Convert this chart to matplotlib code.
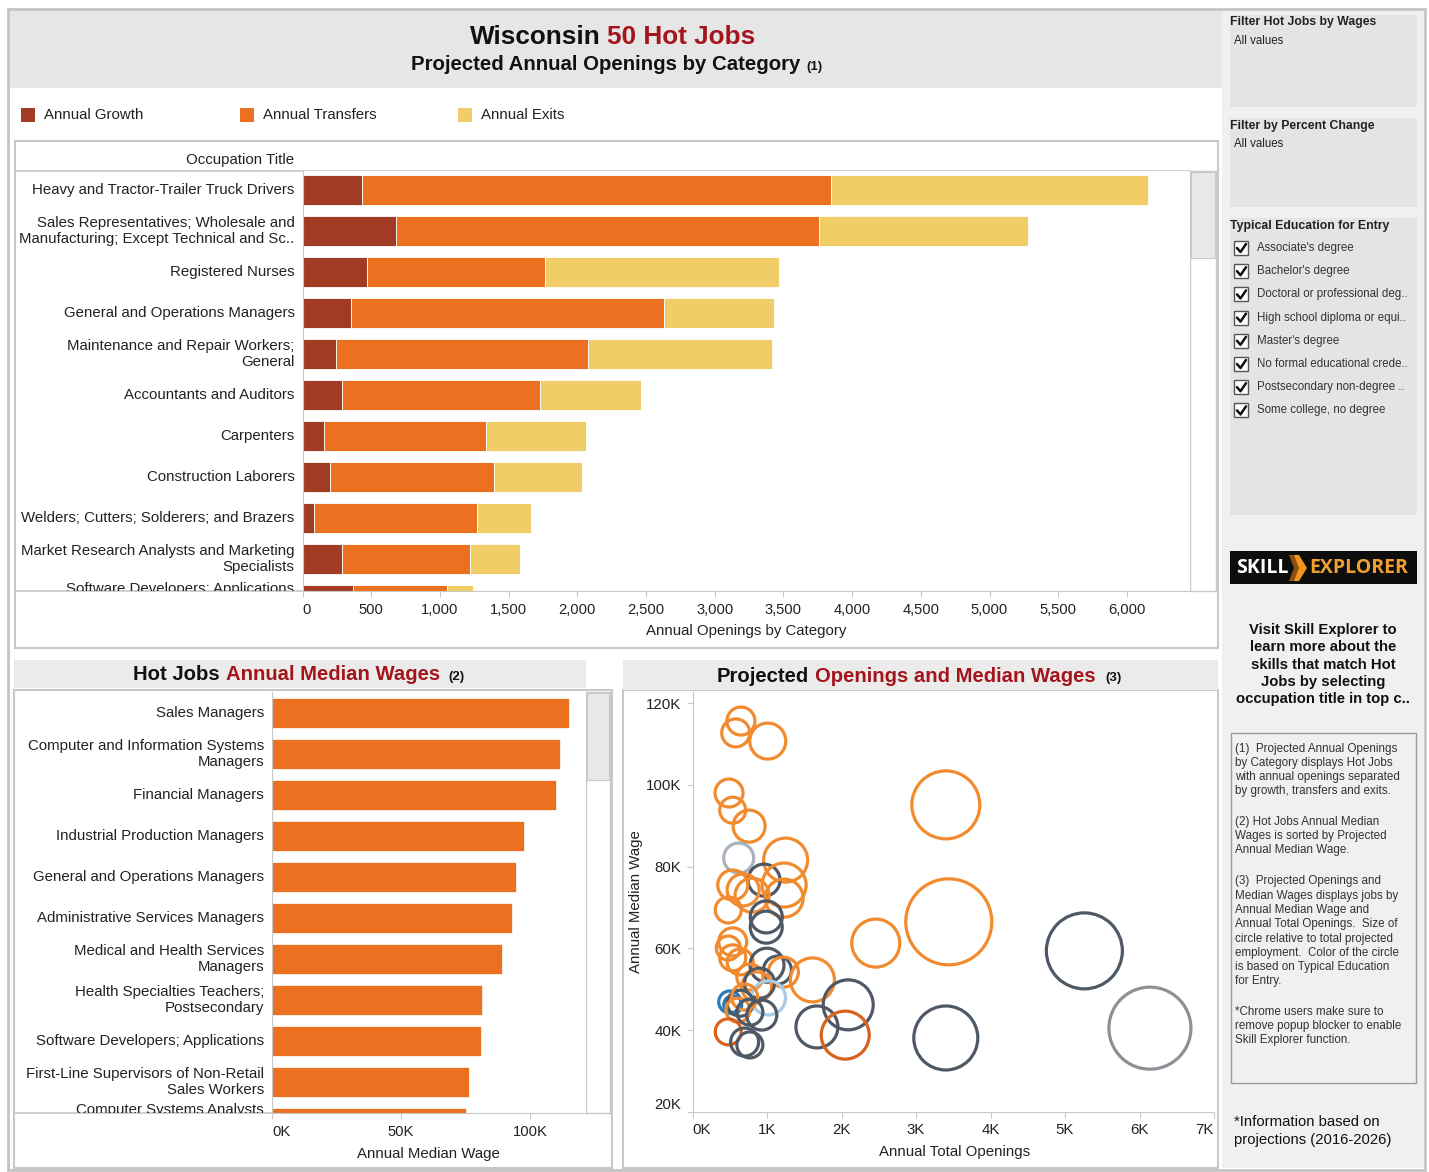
import matplotlib
matplotlib.use("Agg")
import matplotlib.pyplot as plt
from matplotlib.patches import Rectangle, Polygon
from matplotlib.transforms import Bbox, TransformedBbox, blended_transform_factory
import numpy as np

W, H = 1429, 1172
plt.rcParams['font.family'] = ['Liberation Sans', 'DejaVu Sans']

# ---------------- data ----------------
occupations = [
    "Heavy and Tractor-Trailer Truck Drivers",
    "Sales Representatives; Wholesale and\nManufacturing; Except Technical and Sc..",
    "Registered Nurses",
    "General and Operations Managers",
    "Maintenance and Repair Workers;\nGeneral",
    "Accountants and Auditors",
    "Carpenters",
    "Construction Laborers",
    "Welders; Cutters; Solderers; and Brazers",
    "Market Research Analysts and Marketing\nSpecialists",
    "Software Developers; Applications",
]
annual_growth = [433, 684, 467, 350, 247, 289, 158, 197, 85, 289, 367]
annual_transfers = [3413, 3073, 1295, 2282, 1830, 1439, 1181, 1200, 1184, 933, 685]
annual_exits = [2307, 1524, 1706, 796, 1342, 734, 724, 637, 395, 361, 189]
openings_ticks = list(range(0, 6001, 500))

wage_jobs = [
    "Sales Managers",
    "Computer and Information Systems\nManagers",
    "Financial Managers",
    "Industrial Production Managers",
    "General and Operations Managers",
    "Administrative Services Managers",
    "Medical and Health Services\nManagers",
    "Health Specialties Teachers;\nPostsecondary",
    "Software Developers; Applications",
    "First-Line Supervisors of Non-Retail\nSales Workers",
    "Computer Systems Analysts",
]
median_wage_k = [115.3, 111.7, 110.1, 97.5, 94.7, 93.2, 89.1, 81.5, 81.0, 76.3, 75.3]
wage_ticks = [0, 50, 100]
wage_tick_labels = ["0K", "50K", "100K"]

# scatter: annual total openings (K), annual median wage (K), relative circle size, education
sc_openings_k = [0.65, 0.58, 1.01, 0.49, 0.54, 0.76, 0.62, 1.25, 0.96, 1.23, 1.23, 0.54,
                 0.68, 0.80, 0.48, 0.99, 0.99, 0.54, 0.48, 0.54, 0.64, 1.00, 1.14, 1.22,
                 1.61, 0.86, 0.77, 0.90, 1.02, 0.50, 0.54, 0.64, 0.61, 0.70, 0.93, 0.77,
                 2.46, 2.09, 1.67, 2.05, 0.48, 0.70, 0.77, 3.40, 3.44, 3.40, 5.26, 6.14]
sc_wage_k = [115.6, 112.7, 110.7, 98.0, 93.8, 89.9, 82.1, 81.6, 76.7, 75.5, 72.3, 75.5,
             74.3, 73.0, 69.4, 67.7, 65.2, 61.6, 60.1, 57.7, 56.7, 55.9, 54.7, 54.2,
             52.3, 50.6, 53.0, 51.5, 47.9, 46.9, 46.2, 46.6, 44.9, 48.1, 43.7, 44.4,
             61.3, 46.2, 40.8, 38.8, 39.6, 37.1, 36.4, 95.1, 66.5, 38.1, 59.4, 40.5]
sc_size = [14, 14, 18, 14, 13, 16, 15, 22, 16, 22, 19, 15,
           16, 17, 13, 16, 16, 14, 12, 13, 13, 17, 14, 15,
           22, 15, 13, 15, 17, 11, 9, 13, 12, 13, 15, 13,
           24, 25, 21, 24, 13, 14, 13, 34, 43, 32, 38, 41]
B, HS, PS, NF, AS, SC, MA = ("Bachelor's degree", "High school diploma or equivalent",
                             "Postsecondary non-degree award", "No formal educational credential",
                             "Associate's degree", "Some college, no degree", "Master's degree")
sc_education = [B, B, B, B, B, B, MA, B, HS, B, B, B,
                B, B, B, HS, HS, B, B, B, B, HS, HS, B,
                B, B, B, HS, SC, AS, AS, HS, B, B, HS, HS,
                B, HS, HS, NF, NF, HS, HS, B, B, HS, HS, PS]
edu_colors = {B: "#F28A2E", HS: "#4F5965", PS: "#8D9196", NF: "#D9621E",
              AS: "#2B7BBA", SC: "#A8CBE6", MA: "#A9B3BD"}
sc_xticks = list(range(0, 8))
sc_yticks = list(range(20, 121, 20))

education_filters = ["Associate's degree", "Bachelor's degree", "Doctoral or professional deg..",
                     "High school diploma or equi..", "Master's degree", "No formal educational crede..",
                     "Postsecondary non-degree ..", "Some college, no degree"]

C_GROW, C_TRANS, C_EXIT = "#A23B23", "#EB7120", "#F0CD67"
RED = "#A3141B"
TXT = "#222222"
LINE = "#c8c8c8"

fig = plt.figure(figsize=(W / 100, H / 100), dpi=100)
fig.patch.set_facecolor("white")
bg = fig.add_axes([0, 0, 1, 1], zorder=0)
bg.set_xlim(0, W)
bg.set_ylim(H, 0)
bg.axis("off")


def rect_axes(x0, y0, x1, y1, z=2):
    return fig.add_axes([x0 / W, 1 - y1 / H, (x1 - x0) / W, (y1 - y0) / H], zorder=z)


def box(x0, y0, x1, y1, fc="none", ec="none", lw=1.0):
    bg.add_patch(Rectangle((x0, y0), x1 - x0, y1 - y0, facecolor=fc, edgecolor=ec, linewidth=lw))


def clipbox(x0, y0, x1, y1):
    return TransformedBbox(Bbox.from_extents(x0 / W, 1 - y1 / H, x1 / W, 1 - y0 / H), fig.transFigure)


# ---------------- frame & title ----------------
box(1222, 10, 1424, 1168, fc="#f0f0f0")
box(9, 10, 1222, 88, fc="#e6e6e6")
box(8, 9, 1425, 1170, ec="#c4c4c4", lw=2)
bg.text(601, 37, "Wisconsin", ha="right", va="center", fontsize=18.8, fontweight="bold", color="#111")
bg.text(607, 37, "50 Hot Jobs", ha="left", va="center", fontsize=18.8, fontweight="bold", color=RED)
bg.text(800, 65, "Projected Annual Openings by Category", ha="right", va="center",
        fontsize=14.7, fontweight="bold", color="#111")
bg.text(806, 67, "(1)", ha="left", va="center", fontsize=9.5, fontweight="bold", color="#111")

# legend
for x, c, lab in [(21, C_GROW, "Annual Growth"), (240, C_TRANS, "Annual Transfers"), (458, C_EXIT, "Annual Exits")]:
    box(x, 108, x + 14, 122, fc=c)
    bg.text(x + 23, 115, lab, ha="left", va="center", fontsize=10.8, color=TXT)

# ---------------- top chart ----------------
box(15, 141, 1218, 648, ec=LINE, lw=1.5)
bg.plot([15, 1190], [171, 171], color=LINE, lw=1.2)
bg.plot([15, 302.5], [591, 591], color=LINE, lw=1.2)
bg.text(294, 160, "Occupation Title", ha="right", va="center", fontsize=10.8, color=TXT)
box(1190, 171, 1216, 591, fc="white", ec=LINE, lw=1)
box(1191, 172, 1215, 258, fc="#e9e9e9", ec=LINE, lw=0.8)

ax1 = rect_axes(302.5, 171, 1190, 591)
y = np.arange(len(occupations))
g = np.array(annual_growth)
t = np.array(annual_transfers)
e = np.array(annual_exits)
ax1.barh(y, g, height=0.73, color=C_GROW, edgecolor="white", linewidth=0.6)
ax1.barh(y, t, left=g, height=0.73, color=C_TRANS, edgecolor="white", linewidth=0.6)
ax1.barh(y, e, left=g + t, height=0.73, color=C_EXIT, edgecolor="white", linewidth=0.6)
y1_bottom = 9.78
ax1.set_ylim(y1_bottom, -0.46)
ax1.set_xlim(0, 6459)
ax1.set_xticks(openings_ticks)
ax1.set_xticklabels([f"{v:,}" for v in openings_ticks])
ax1.get_xticklabels()[0].set_ha("left")
ax1.set_yticks([])
ax1.tick_params(axis="x", length=4, color=LINE, labelsize=10.6, labelcolor=TXT, pad=5)
for s in ["top", "right"]:
    ax1.spines[s].set_visible(False)
for s in ["left", "bottom"]:
    ax1.spines[s].set_color(LINE)
tr1 = blended_transform_factory(ax1.transAxes, ax1.transData)
cb1 = clipbox(15, 171, 300, 591)
for i, lab in enumerate(occupations):
    yy = min(i, y1_bottom - 0.06)
    tx = ax1.text(-8 / 887.5, yy, lab, transform=tr1, ha="right", va="center", fontsize=10.8,
                  color=TXT, multialignment="right", clip_on=True)
    tx.set_clip_path(None)
    tx.set_clip_box(cb1)
bg.text(746, 631, "Annual Openings by Category", ha="center", va="center", fontsize=10.8, color=TXT)

# ---------------- wages chart ----------------
box(14, 690, 612, 1168, ec=LINE, lw=1.5)
box(14, 660, 586, 688, fc="#ebebeb")
bg.text(133, 675, "Hot Jobs", ha="left", va="center", fontsize=14.6, fontweight="bold", color="#111")
bg.text(226, 675, "Annual Median Wages", ha="left", va="center", fontsize=14.6, fontweight="bold", color=RED)
bg.text(448, 677, "(2)", ha="left", va="center", fontsize=9.5, fontweight="bold", color="#111")
bg.plot([14, 272], [1113, 1113], color=LINE, lw=1.2)
box(586, 692, 610, 1113, fc="white", ec=LINE, lw=1)
box(587, 693, 609, 780, fc="#e9e9e9", ec=LINE, lw=0.8)

ax2 = rect_axes(272, 692, 586, 1113)
y2 = np.arange(len(wage_jobs))
ax2.barh(y2, median_wage_k, height=0.73, color=C_TRANS, edgecolor="white", linewidth=0.5)
y2_bottom = 9.76
ax2.set_ylim(y2_bottom, -0.51)
ax2.set_xlim(0, 121.7)
ax2.set_xticks(wage_ticks)
ax2.set_xticklabels(wage_tick_labels)
ax2.get_xticklabels()[0].set_ha("left")
ax2.set_yticks([])
ax2.tick_params(axis="x", length=4, color=LINE, labelsize=10.6, labelcolor=TXT, pad=5)
for s in ["top", "right"]:
    ax2.spines[s].set_visible(False)
for s in ["left", "bottom"]:
    ax2.spines[s].set_color(LINE)
tr2 = blended_transform_factory(ax2.transAxes, ax2.transData)
cb2 = clipbox(14, 692, 270, 1113)
for i, lab in enumerate(wage_jobs):
    yy = min(i, y2_bottom - 0.08)
    tx = ax2.text(-8 / 314, yy, lab, transform=tr2, ha="right", va="center", fontsize=10.8,
                  color=TXT, multialignment="right", clip_on=True)
    tx.set_clip_path(None)
    tx.set_clip_box(cb2)
bg.text(428, 1154, "Annual Median Wage", ha="center", va="center", fontsize=10.8, color=TXT)

# ---------------- scatter ----------------
box(623, 690, 1218, 1168, ec=LINE, lw=1.5)
box(623, 660, 1218, 690, fc="#ebebeb")
bg.text(717, 676, "Projected", ha="left", va="center", fontsize=14.6, fontweight="bold", color="#111")
bg.text(815, 676, "Openings and Median Wages", ha="left", va="center", fontsize=14.6, fontweight="bold", color=RED)
bg.text(1105, 678, "(3)", ha="left", va="center", fontsize=9.5, fontweight="bold", color="#111")

ax3 = rect_axes(692.5, 692, 1214, 1112)
ax3.patch.set_alpha(0)
ax3.set_xlim(0, 7)
ax3.set_ylim(20, 122.7)
sx = np.array(sc_openings_k)
sy = np.array(sc_wage_k)
ss = np.array(sc_size, dtype=float)
cols = [edu_colors[c] for c in sc_education]
ax3.scatter(sx, sy, s=(2 * ss * 0.72) ** 2, facecolors="none", edgecolors=cols, linewidths=2.3, clip_on=False)
ax3.set_xticks(sc_xticks)
ax3.set_xticklabels([f"{v}K" for v in sc_xticks])
ax3.set_yticks(sc_yticks)
ax3.set_yticklabels([f"{v}K" for v in sc_yticks])
xl = ax3.get_xticklabels()
xl[0].set_ha("left")
xl[-1].set_ha("right")
ax3.get_yticklabels()[0].set_va("bottom")
ax3.tick_params(length=4, color=LINE, labelsize=10.8, labelcolor=TXT, pad=4)
for s in ["top", "right"]:
    ax3.spines[s].set_visible(False)
for s in ["left", "bottom"]:
    ax3.spines[s].set_color(LINE)
bg.text(636, 902, "Annual Median Wage", ha="center", va="center", rotation=90, fontsize=10.8, color=TXT)
bg.text(955, 1152, "Annual Total Openings", ha="center", va="center", fontsize=10.8, color=TXT)

# ---------------- right column ----------------
box(1230, 15, 1417, 107, fc="#e4e4e4")
box(1230, 118, 1417, 207, fc="#e4e4e4")
box(1230, 218, 1417, 515, fc="#e4e4e4")
for yy, title in [(22, "Filter Hot Jobs by Wages"), (126, "Filter by Percent Change"), (226, "Typical Education for Entry")]:
    bg.text(1230, yy, title, ha="left", va="center", fontsize=8.8, fontweight="bold", color="#222")
bg.text(1234, 41, "All values", ha="left", va="center", fontsize=8.3, color="#222")
bg.text(1234, 144, "All values", ha="left", va="center", fontsize=8.3, color="#222")
for k, lab in enumerate(education_filters):
    yy = 248 + k * 23.2
    box(1234, yy - 7, 1248, yy + 7, fc="white", ec="#555", lw=1)
    bg.plot([1237, 1240.5, 1246], [yy, yy + 4, yy - 4], color="#111", lw=1.8, solid_capstyle="round")
    bg.text(1257, yy, lab, ha="left", va="center", fontsize=8.3, color="#333")

# logo
box(1230, 551, 1417, 584, fc="#0d0d0d")
bg.text(1236, 568, "SKILL", ha="left", va="center", fontsize=14, fontweight="bold", color="white",
        family=["Open Sans", "DejaVu Sans"])
bg.add_patch(Polygon([(1289, 555), (1298, 555), (1306, 568), (1298, 581), (1289, 581), (1294, 568)],
                     closed=True, facecolor="#8a4f12", edgecolor="none"))
bg.add_patch(Polygon([(1294, 555), (1299, 555), (1307, 568), (1299, 581), (1294, 581), (1299, 568)],
                     closed=True, facecolor="#F0961E", edgecolor="none"))
bg.text(1309, 568, "EXPLORER", ha="left", va="center", fontsize=14, fontweight="bold", color="#F0A031",
        family=["Open Sans", "DejaVu Sans"])

visit = ["Visit Skill Explorer to", "learn more about the", "skills that match Hot",
         "Jobs by selecting", "occupation title in top c.."]
for k, line in enumerate(visit):
    bg.text(1323, 630 + k * 17.3, line, ha="center", va="center", fontsize=10.7, fontweight="bold", color="#111")

box(1231, 733, 1416, 1083, fc="#f0f0f0", ec="#9a9a9a", lw=1)
notes = [(749, "(1)  Projected Annual Openings"), (763, "by Category displays Hot Jobs"),
         (777, "with annual openings separated"), (791, "by growth, transfers and exits."),
         (822, "(2) Hot Jobs Annual Median"), (836, "Wages is sorted by Projected"),
         (850, "Annual Median Wage."),
         (881, "(3)  Projected Openings and"), (896, "Median Wages displays jobs by"),
         (910, "Annual Median Wage and"), (924, "Annual Total Openings.  Size of"),
         (939, "circle relative to total projected"), (953, "employment.  Color of the circle"),
         (967, "is based on Typical Education"), (981, "for Entry."),
         (1012, "*Chrome users make sure to"), (1026, "remove popup blocker to enable"),
         (1040, "Skill Explorer function.")]
for yy, line in notes:
    bg.text(1235, yy, line, ha="left", va="center", fontsize=8.4, color="#333")

bg.text(1234, 1122, "*Information based on", ha="left", va="center", fontsize=10.7, color="#111")
bg.text(1234, 1140, "projections (2016-2026)", ha="left", va="center", fontsize=10.7, color="#111")

fig.savefig("out.png", dpi=100, facecolor="white")
